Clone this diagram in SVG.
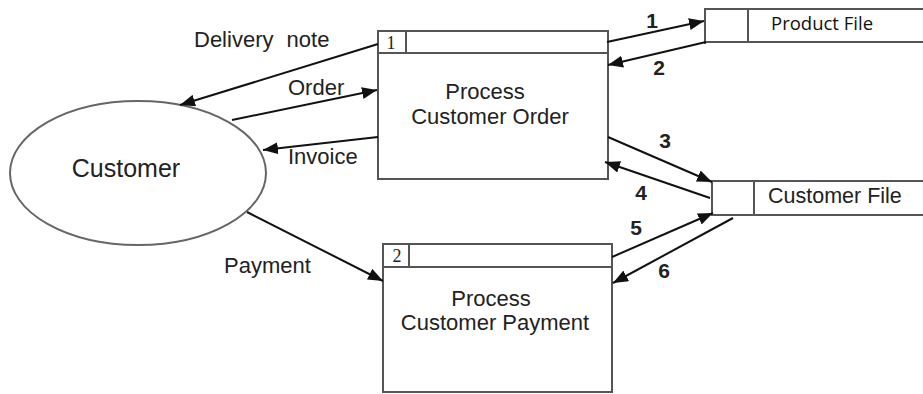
<svg xmlns="http://www.w3.org/2000/svg" width="923" height="394" viewBox="0 0 923 394">
<defs>
<marker id="ah" markerUnits="userSpaceOnUse" markerWidth="16" markerHeight="12" refX="15" refY="6" orient="auto">
<path d="M0,0 L15,6 L0,12 Z" fill="#111"/>
</marker>
<style>
.box{fill:#fff;stroke:#555;stroke-width:2}
.ell{fill:#fff;stroke:#666;stroke-width:2}
.ln{fill:none;stroke:#555;stroke-width:2}
.flow{fill:none;stroke:#111;stroke-width:2;marker-end:url(#ah)}
.t{font-family:"Liberation Sans",Arial,sans-serif;fill:#222}
.lbl{font-size:22px}
.num{font-family:"Liberation Sans",Arial,sans-serif;font-size:21px;font-weight:bold;fill:#222}
.hd{font-family:"Liberation Serif","Times New Roman",serif;font-size:18px;fill:#222}
.pf{font-family:"Open Sans","Noto Sans",sans-serif;font-size:18.5px;fill:#111}
</style>
</defs>
<rect width="923" height="394" fill="#fff"/>

<g id="customer">
<ellipse class="ell" cx="138" cy="173" rx="128" ry="72"/>
<text class="t" x="126" y="177" font-size="25" text-anchor="middle">Customer</text>
</g>

<g id="process1">
<rect class="box" x="378" y="31" width="230" height="148"/>
<line class="ln" x1="378" y1="53" x2="608" y2="53"/>
<line class="ln" x1="406" y1="31" x2="406" y2="53"/>
<text class="hd" x="391" y="49" text-anchor="middle">1</text>
<text class="t" x="485" y="99" font-size="22" text-anchor="middle">Process</text>
<text class="t" x="490" y="124" font-size="22" text-anchor="middle">Customer Order</text>
</g>

<g id="process2">
<rect class="box" x="383" y="244" width="229" height="148"/>
<line class="ln" x1="383" y1="267" x2="612" y2="267"/>
<line class="ln" x1="409" y1="244" x2="409" y2="267"/>
<text class="hd" x="397" y="262" text-anchor="middle">2</text>
<text class="t" x="491" y="306" font-size="22" text-anchor="middle">Process</text>
<text class="t" x="495" y="330" font-size="22" text-anchor="middle">Customer Payment</text>
</g>

<g id="productfile">
<path class="ln" d="M925,9 L705,9 L705,44 M705,42 L925,42 M748,9 L748,42"/>
<text class="pf" x="771" y="30">Product File</text>
</g>

<g id="customerfile">
<path class="ln" d="M925,181 L712,181 L712,215 L925,215 M754,181 L754,215"/>
<text class="t" x="768" y="203" font-size="21.5">Customer File</text>
</g>

<g id="connectors">
<path class="flow" d="M378,44 L180,105"/>
<path class="flow" d="M232,120 L377,90"/>
<path class="flow" d="M378,137 L263,150"/>
<path class="flow" d="M247,212 L383,281"/>
<path class="flow" d="M607,42 L704,21"/>
<path class="flow" d="M706,42 L608,65"/>
<path class="flow" d="M608,137 L712,182"/>
<path class="flow" d="M710,198 L605,162"/>
<path class="flow" d="M612,257 L713,213"/>
<path class="flow" d="M733,218 L613,283"/>
</g>

<g id="labels">
<text class="t lbl" x="194" y="47" word-spacing="7">Delivery note</text>
<text class="t lbl" x="288" y="95">Order</text>
<text class="t lbl" x="288" y="164">Invoice</text>
<text class="t lbl" x="224" y="273">Payment</text>
<text class="num" x="652" y="28" text-anchor="middle">1</text>
<text class="num" x="659" y="75" text-anchor="middle">2</text>
<text class="num" x="665" y="148" text-anchor="middle">3</text>
<text class="num" x="641" y="200" text-anchor="middle">4</text>
<text class="num" x="636" y="235" text-anchor="middle">5</text>
<text class="num" x="664" y="278" text-anchor="middle">6</text>
</g>
</svg>
